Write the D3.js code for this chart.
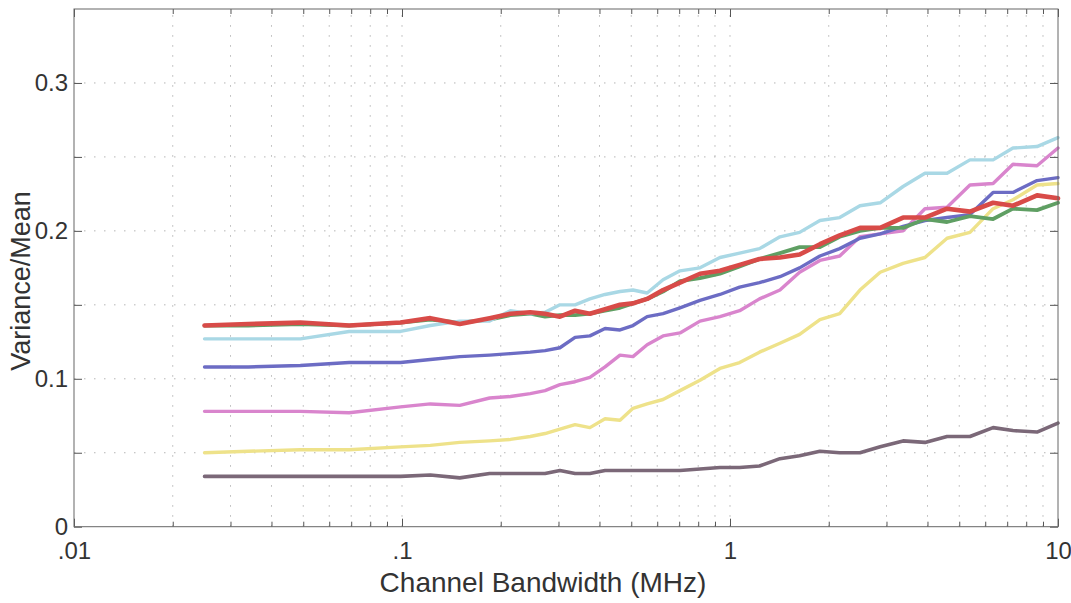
<!DOCTYPE html>
<html>
<head>
<meta charset="utf-8">
<script src="https://cdn.jsdelivr.net/npm/d3@7"></script>
<style>
  body { margin: 0; background: #fff; }
  svg { display: block; }
  text { font-family: "Liberation Sans", Arial, Helvetica, sans-serif; fill: #333; }
</style>
</head>
<body>
<script>
// Channel bandwidth (MHz)
const bandwidth = [0.025, 0.034, 0.049, 0.069, 0.099, 0.122, 0.15, 0.185, 0.214, 0.246,
  0.273, 0.303, 0.337, 0.374, 0.416, 0.462, 0.506, 0.559, 0.625, 0.704,
  0.81, 0.932, 1.07, 1.23, 1.42, 1.63, 1.88, 2.16, 2.49, 2.87,
  3.37, 3.93, 4.59, 5.39, 6.34, 7.29, 8.63, 10];

// Variance/Mean per series
const redSeries = [0.136, 0.137, 0.138, 0.136, 0.138, 0.141, 0.137, 0.141, 0.144, 0.145,
  0.144, 0.142, 0.146, 0.144, 0.147, 0.150, 0.151, 0.154, 0.160, 0.165,
  0.171, 0.173, 0.177, 0.181, 0.182, 0.184, 0.191, 0.197, 0.202, 0.202,
  0.209, 0.209, 0.215, 0.213, 0.219, 0.217, 0.224, 0.222];
const greenSeries = [0.136, 0.136, 0.137, 0.136, 0.138, 0.140, 0.138, 0.140, 0.143, 0.144,
  0.142, 0.143, 0.143, 0.144, 0.146, 0.148, 0.151, 0.154, 0.159, 0.166,
  0.168, 0.171, 0.176, 0.181, 0.185, 0.189, 0.189, 0.196, 0.200, 0.202,
  0.202, 0.208, 0.206, 0.210, 0.208, 0.215, 0.214, 0.219];
const cyanSeries = [0.127, 0.127, 0.127, 0.132, 0.132, 0.136, 0.139, 0.139, 0.146, 0.144,
  0.145, 0.150, 0.150, 0.154, 0.157, 0.159, 0.160, 0.158, 0.167, 0.173,
  0.175, 0.182, 0.185, 0.188, 0.196, 0.199, 0.207, 0.209, 0.217, 0.219,
  0.230, 0.239, 0.239, 0.248, 0.248, 0.256, 0.257, 0.263];
const blueSeries = [0.108, 0.108, 0.109, 0.111, 0.111, 0.113, 0.115, 0.116, 0.117, 0.118,
  0.119, 0.121, 0.128, 0.129, 0.134, 0.133, 0.136, 0.142, 0.144, 0.148,
  0.153, 0.157, 0.162, 0.165, 0.169, 0.175, 0.183, 0.188, 0.195, 0.198,
  0.203, 0.207, 0.209, 0.211, 0.226, 0.226, 0.234, 0.236];
const pinkSeries = [0.078, 0.078, 0.078, 0.077, 0.081, 0.083, 0.082, 0.087, 0.088, 0.090,
  0.092, 0.096, 0.098, 0.101, 0.108, 0.116, 0.115, 0.123, 0.129, 0.131,
  0.139, 0.142, 0.146, 0.154, 0.160, 0.172, 0.180, 0.183, 0.196, 0.198,
  0.200, 0.215, 0.216, 0.231, 0.232, 0.245, 0.244, 0.256];
const yellowSeries = [0.050, 0.051, 0.052, 0.052, 0.054, 0.055, 0.057, 0.058, 0.059, 0.061,
  0.063, 0.066, 0.069, 0.067, 0.073, 0.072, 0.080, 0.083, 0.086, 0.092,
  0.099, 0.107, 0.111, 0.118, 0.124, 0.130, 0.140, 0.144, 0.160, 0.172,
  0.178, 0.182, 0.195, 0.199, 0.215, 0.221, 0.231, 0.232];
const graySeries = [0.034, 0.034, 0.034, 0.034, 0.034, 0.035, 0.033, 0.036, 0.036, 0.036,
  0.036, 0.038, 0.036, 0.036, 0.038, 0.038, 0.038, 0.038, 0.038, 0.038,
  0.039, 0.040, 0.040, 0.041, 0.046, 0.048, 0.051, 0.050, 0.050, 0.054,
  0.058, 0.057, 0.061, 0.061, 0.067, 0.065, 0.064, 0.070];

// Axis ticks
const xMajorTicks = [0.01, 0.1, 1, 10];
const xTickLabels = [".01", ".1", "1", "10"];
const xMinorTicks = [0.02,0.03,0.04,0.05,0.06,0.07,0.08,0.09,
                     0.2,0.3,0.4,0.5,0.6,0.7,0.8,0.9,
                     2,3,4,5,6,7,8,9];
const yMajorTicks = [0, 0.1, 0.2, 0.3];
const yTickLabels = ["0", "0.1", "0.2", "0.3"];
const yMinorTicks = [0.05, 0.15, 0.25];

const series = [
  { name: "gray",   values: graySeries,   color: "#7b6878", width: 3.6 },
  { name: "yellow", values: yellowSeries, color: "#eee28a", width: 3.4 },
  { name: "pink",   values: pinkSeries,   color: "#d985cd", width: 3.4 },
  { name: "blue",   values: blueSeries,   color: "#6c6cc4", width: 3.4 },
  { name: "green",  values: greenSeries,  color: "#5f9f63", width: 3.8 },
  { name: "cyan",   values: cyanSeries,   color: "#a9d8e5", width: 3.4 },
  { name: "red",    values: redSeries,    color: "#d84b48", width: 4.6 }
];

(function () {
const W = 1071, H = 603;
const pLeft = 74, pRight = 1058, pTop = 9, pBottom = 526.7;

const svg = d3.select("body").append("svg").attr("width", W).attr("height", H);

const x = d3.scaleLog().domain([0.01, 10]).range([pLeft, pRight]);
const y = d3.scaleLinear().domain([0, 0.35]).range([pBottom, pTop]);

// Grid (dotted)
const grid = svg.append("g").attr("stroke", "#b5b5b5").attr("stroke-width", 1)
  .attr("stroke-dasharray", "1.5,8.5");
grid.selectAll("line.gx").data(xMinorTicks.concat(xMajorTicks.slice(1, 3))).enter()
  .append("line").attr("class", "gx")
  .attr("x1", d => x(d)).attr("x2", d => x(d))
  .attr("y1", pBottom).attr("y2", pTop);
grid.selectAll("line.gy").data(yMajorTicks.slice(1).concat(yMinorTicks)).enter()
  .append("line").attr("class", "gy")
  .attr("x1", pLeft).attr("x2", pRight)
  .attr("y1", d => y(d)).attr("y2", d => y(d));

// Lines
const line = d3.line().x((d, i) => x(bandwidth[i])).y(d => y(d));
svg.append("g").selectAll("path").data(series).enter().append("path")
  .attr("d", d => line(d.values))
  .attr("fill", "none")
  .attr("stroke", d => d.color)
  .attr("stroke-width", d => d.width)
  .attr("stroke-linejoin", "round")
  .attr("stroke-linecap", "round");

// Axes
function styleAxis(g) {
  g.select(".domain").remove();
  g.selectAll(".tick line").attr("stroke", "#555");
  g.selectAll(".tick text").attr("font-size", 24).attr("fill", "#333")
    .attr("font-family", "'Liberation Sans', Arial, sans-serif");
}

svg.append("g").attr("transform", `translate(0,${pBottom})`)
  .call(d3.axisBottom(x).tickValues(xMajorTicks)
    .tickFormat((d, i) => xTickLabels[i]).tickSizeInner(-8).tickSizeOuter(0).tickPadding(15))
  .call(styleAxis);
svg.append("g").attr("transform", `translate(0,${pBottom})`)
  .call(d3.axisBottom(x).tickValues(xMinorTicks).tickFormat("").tickSizeInner(-5).tickSizeOuter(0))
  .call(styleAxis);
svg.append("g").attr("transform", `translate(0,${pTop})`)
  .call(d3.axisTop(x).tickValues(xMajorTicks).tickFormat("").tickSizeInner(-8).tickSizeOuter(0))
  .call(styleAxis);
svg.append("g").attr("transform", `translate(0,${pTop})`)
  .call(d3.axisTop(x).tickValues(xMinorTicks).tickFormat("").tickSizeInner(-5).tickSizeOuter(0))
  .call(styleAxis);

svg.append("g").attr("transform", `translate(${pLeft},0)`)
  .call(d3.axisLeft(y).tickValues(yMajorTicks)
    .tickFormat((d, i) => yTickLabels[i]).tickSizeInner(-8).tickSizeOuter(0).tickPadding(6))
  .call(styleAxis);
svg.append("g").attr("transform", `translate(${pLeft},0)`)
  .call(d3.axisLeft(y).tickValues(yMinorTicks).tickFormat("").tickSizeInner(-8).tickSizeOuter(0))
  .call(styleAxis);
svg.append("g").attr("transform", `translate(${pRight},0)`)
  .call(d3.axisRight(y).tickValues(yMajorTicks.concat(yMinorTicks)).tickFormat("").tickSizeInner(-8).tickSizeOuter(0))
  .call(styleAxis);

// Frame
svg.append("rect").attr("x", pLeft).attr("y", pTop)
  .attr("width", pRight - pLeft).attr("height", pBottom - pTop)
  .attr("fill", "none").attr("stroke", "#666").attr("stroke-width", 1);

// Axis labels
svg.append("text").attr("x", 543).attr("y", 592)
  .attr("text-anchor", "middle").attr("font-size", 28)
  .text("Channel Bandwidth (MHz)");
svg.append("text").attr("transform", `translate(30,281) rotate(-90)`)
  .attr("text-anchor", "middle").attr("font-size", 27)
  .text("Variance/Mean");
})();
</script>
</body>
</html>
